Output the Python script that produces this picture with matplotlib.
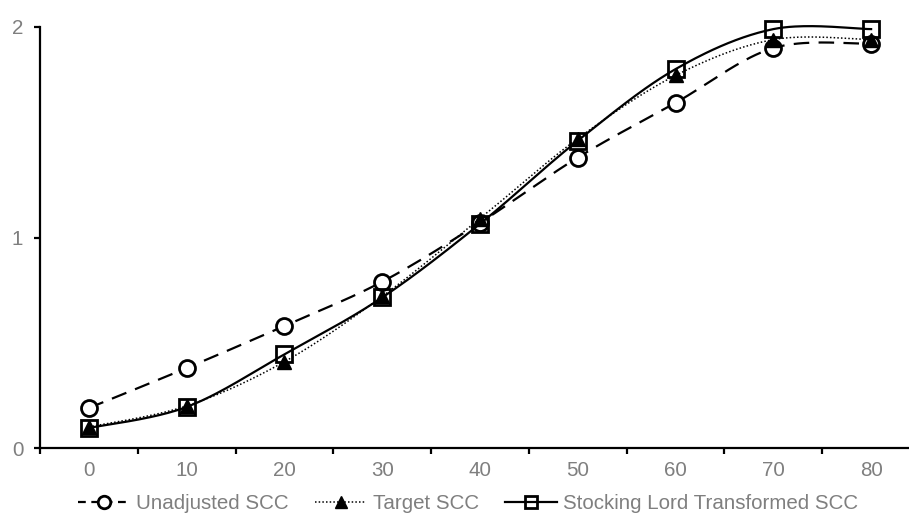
import numpy as np
import matplotlib
matplotlib.use("Agg")
import matplotlib.pyplot as plt
from matplotlib.lines import Line2D

plt.rcParams['font.family'] = ['Liberation Sans', 'DejaVu Sans']

categories = ['0', '10', '20', '30', '40', '50', '60', '70', '80']
unadjusted = [0.19, 0.38, 0.58, 0.79, 1.07, 1.38, 1.64, 1.90, 1.92]
target = [0.10, 0.20, 0.41, 0.72, 1.09, 1.47, 1.77, 1.94, 1.94]
stocking = [0.095, 0.195, 0.445, 0.715, 1.065, 1.46, 1.80, 1.99, 1.99]
y_ticks = [0, 1, 2]
series_names = ['Unadjusted SCC', 'Target SCC', 'Stocking Lord Transformed SCC']


def smooth(y, n=40):
    x = np.arange(len(y), dtype=float)
    P = np.column_stack([x, np.asarray(y, float)])
    out = []
    for i in range(len(P) - 1):
        p0 = P[max(i - 1, 0)]
        p1 = P[i]
        p2 = P[i + 1]
        p3 = P[min(i + 2, len(P) - 1)]
        c1 = p1 + (p2 - p0) / 6
        c2 = p2 - (p3 - p1) / 6
        t = np.linspace(0, 1, n)[:, None]
        seg = (1 - t) ** 3 * p1 + 3 * (1 - t) ** 2 * t * c1 + 3 * (1 - t) * t ** 2 * c2 + t ** 3 * p2
        out.append(seg if i == 0 else seg[1:])
    s = np.vstack(out)
    return s[:, 0], s[:, 1]


fig = plt.figure(figsize=(9.09, 5.19), dpi=100)
ax = fig.add_axes([40 / 909, 1 - 448 / 519, 880 / 909, 421 / 519])

gray = '#7f7f7f'
fs = 14.8
x = np.arange(len(categories))

# Unadjusted: dashed, open circles (white fill)
sx, sy = smooth(unadjusted)
ax.plot(sx, sy, color='black', lw=1.6, dashes=(7, 4.2), zorder=2, clip_on=False)
ax.plot(x, unadjusted, ls='none', marker='o', ms=11.5, mfc='white', mec='black', mew=2.0,
        zorder=3, clip_on=False)

# Target: dotted, filled triangles
sx, sy = smooth(target)
ax.plot(sx, sy, color='black', lw=1.1, ls=(0, (1, 1.4)), zorder=4, clip_on=False)
ax.plot(x, target, ls='none', marker='^', ms=9.5, mfc='black', mec='black', mew=1.0,
        zorder=5, clip_on=False)

# Stocking Lord: solid, open squares
sx, sy = smooth(stocking)
ax.plot(sx, sy, color='black', lw=1.6, ls='-', zorder=6, clip_on=False)
ax.plot(x, stocking, ls='none', marker='s', ms=11, mfc='none', mec='black', mew=2.0,
        zorder=7, clip_on=False)

ax.set_xlim(-0.5, len(categories) - 0.5)
ax.set_ylim(0, 2)
ax.set_xticks(x)
ax.set_xticklabels(categories)
ax.set_xticks(np.arange(len(categories)) - 0.5, minor=True)
ax.set_yticks(y_ticks)
ax.set_yticklabels([str(v) for v in y_ticks])

for s in ['top', 'right']:
    ax.spines[s].set_visible(False)
for s in ['left', 'bottom']:
    ax.spines[s].set_linewidth(1.6)
    ax.spines[s].set_color('black')

ax.tick_params(axis='x', which='major', length=0, pad=9, labelsize=fs, labelcolor=gray)
ax.tick_params(axis='x', which='minor', length=4, width=1.6, direction='out', color='black')
ax.tick_params(axis='y', which='major', length=4, width=1.6, direction='out', pad=8,
               labelsize=fs, labelcolor=gray, color='black')

handles = [
    Line2D([], [], color='black', lw=1.6, dashes=(3.5, 2.5), marker='o', ms=9,
           mfc='white', mec='black', mew=2.0),
    Line2D([], [], color='black', lw=1.1, ls=(0, (1, 1.4)), marker='^', ms=8.5,
           mfc='black', mec='black'),
    Line2D([], [], color='black', lw=1.6, ls='-', marker='s', ms=9,
           mfc='none', mec='black', mew=2.0),
]
leg = fig.legend(handles, series_names, loc='center', bbox_to_anchor=(0.515, 0.029),
                 ncol=3, frameon=False, fontsize=fs, handlelength=2.5,
                 handletextpad=0.3, columnspacing=1.3, borderaxespad=0)
for t in leg.get_texts():
    t.set_color(gray)

fig.savefig('out.png', dpi=100)
